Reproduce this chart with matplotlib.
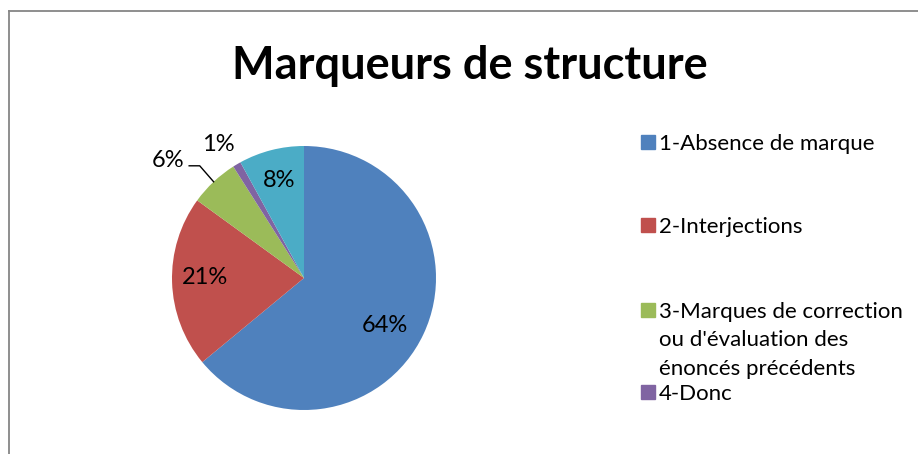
import numpy as np
import matplotlib
matplotlib.use("Agg")
from matplotlib import pyplot as plt
from matplotlib.patches import Rectangle
from matplotlib.lines import Line2D

plt.rcParams['font.family'] = ['Lato', 'DejaVu Sans']

# data
categories = ["1-Absence de marque", "2-Interjections",
              "3-Marques de correction\nou d'évaluation des\nénoncés précédents",
              "4-Donc", "5-Autres"]
values = [64, 21, 6, 1, 8]
pct_labels = ["64%", "21%", "6%", "1%", "8%"]
colors = ["#4F81BD", "#C0504D", "#9BBB59", "#8064A2", "#4BACC6"]

W, H = 918, 454
fig = plt.figure(figsize=(W / 100, H / 100), dpi=100)

# chart border (gray, runs off right and bottom)
fig.add_artist(Line2D([9 / W, 9 / W], [1 - 11 / H, 0], color="#868686", lw=1.3))
fig.add_artist(Line2D([9 / W, 1], [1 - 11 / H, 1 - 11 / H], color="#868686", lw=1.3))

fig.text(470 / W, 1 - 79 / H, "Marqueurs de structure", ha="center", va="baseline",
         fontsize=32.5, fontweight="bold")

# pie axes: center (304, 278), radius 132 px
cx, cy, r = 304, 278, 132
ax = fig.add_axes([(cx - r) / W, (H - cy - r) / H, 2 * r / W, 2 * r / H])
wedges, _ = ax.pie(values, colors=colors, startangle=90, counterclock=False,
                   radius=1, wedgeprops=dict(linewidth=0))
ax.set_xlim(-1, 1)
ax.set_ylim(-1, 1)
ax.set_aspect("auto")
ax.axis("off")

# label placement: (distance, angle tweak in degrees)
place = [(0.71, -5.4), (0.75, -2), (1.36, 6), (1.2, 2), (0.76, 0)]
for w, lab, (d, tw) in zip(wedges, pct_labels, place):
    a = np.deg2rad((w.theta1 + w.theta2) / 2 + tw)
    ax.text(d * np.cos(a), d * np.sin(a), lab, ha="center", va="center",
            fontsize=17, clip_on=False)

# leader line for the 6% slice
a6 = np.deg2rad((wedges[2].theta1 + wedges[2].theta2) / 2)
x0, y0 = np.cos(a6), np.sin(a6)
ax.plot([x0, -0.79, -0.87], [y0, 0.85, 0.85], color="black", lw=1, clip_on=False)

# legend (Excel-style spacing, only the first four entries fit)
leg_y = [142, 225, 310, 392]
for i, y in enumerate(leg_y):
    fig.add_artist(Rectangle((641 / W, 1 - (y + 7) / H), 14 / W, 14 / H,
                             color=colors[i], transform=fig.transFigure))
    for k, line in enumerate(categories[i].split("\n")):
        fig.text(659 / W, 1 - (y + 8 + k * 28.5) / H, line, ha="left",
                 va="baseline", fontsize=16)

fig.savefig("out.png", dpi=100)
